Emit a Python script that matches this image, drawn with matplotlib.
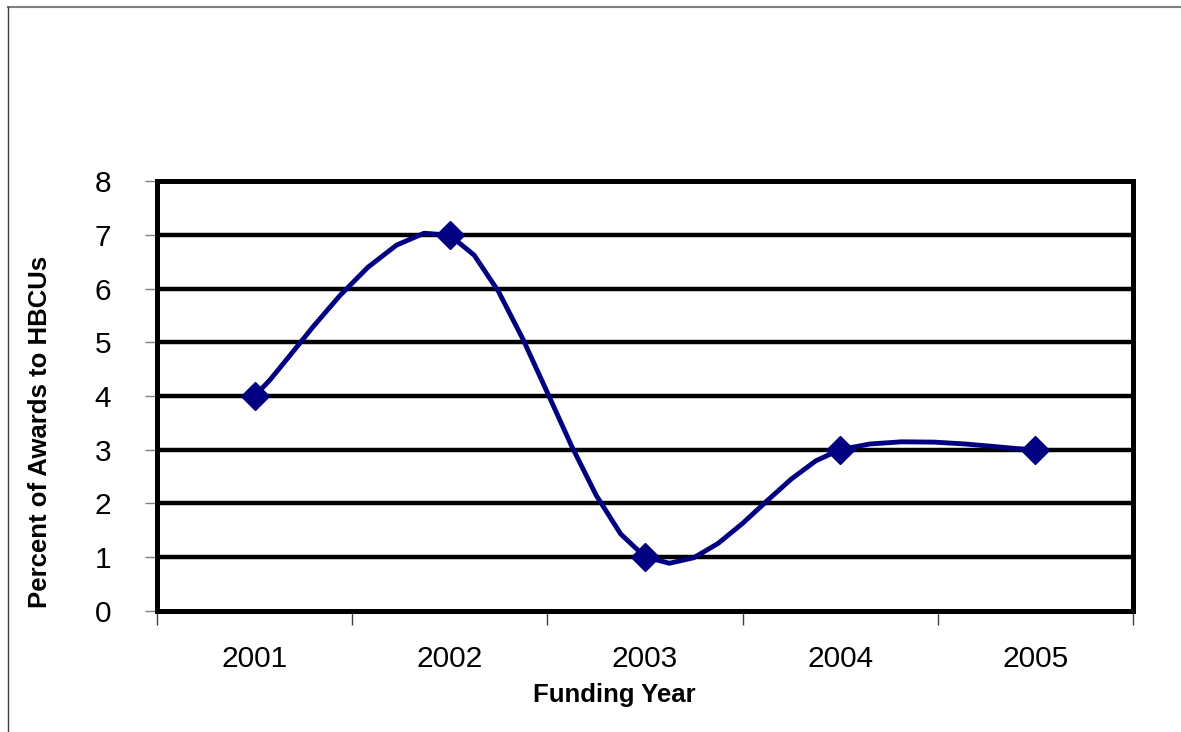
import numpy as np
import matplotlib
matplotlib.use("Agg")
import matplotlib.pyplot as plt
from matplotlib.lines import Line2D

years = ["2001", "2002", "2003", "2004", "2005"]
percent = [4, 7, 1, 3, 3]
yticks = [0, 1, 2, 3, 4, 5, 6, 7, 8]

plt.rcParams['font.family'] = ['Liberation Sans', 'DejaVu Sans']

W, H = 1181, 732
L, R, T, B = 157, 1133, 181.5, 610.5
fig = plt.figure(figsize=(W / 100, H / 100), dpi=100)
ax = fig.add_axes([L / W, 1 - B / H, (R - L) / W, (B - T) / H])

x = np.arange(1, len(years) + 1, dtype=float)
y = np.array(percent, dtype=float)

# Excel-style smoothed line (cubic Bezier with Catmull-Rom control points)
def smooth(xs, ys, n=40):
    px, py = [], []
    N = len(xs)
    for i in range(N - 1):
        x0, y0 = xs[max(i - 1, 0)], ys[max(i - 1, 0)]
        x1, y1 = xs[i], ys[i]
        x2, y2 = xs[i + 1], ys[i + 1]
        x3, y3 = xs[min(i + 2, N - 1)], ys[min(i + 2, N - 1)]
        c1x, c1y = x1 + (x2 - x0) / 6, y1 + (y2 - y0) / 6
        c2x, c2y = x2 - (x3 - x1) / 6, y2 - (y3 - y1) / 6
        t = np.linspace(0, 1, n, endpoint=(i == N - 2))
        bx = (1 - t) ** 3 * x1 + 3 * (1 - t) ** 2 * t * c1x + 3 * (1 - t) * t ** 2 * c2x + t ** 3 * x2
        by = (1 - t) ** 3 * y1 + 3 * (1 - t) ** 2 * t * c1y + 3 * (1 - t) * t ** 2 * c2y + t ** 3 * y2
        px.extend(bx); py.extend(by)
    return np.array(px), np.array(py)

sx, sy = smooth(x, y, n=8)

ax.set_xlim(0.5, len(years) + 0.5)
ax.set_ylim(0, 8)

for v in yticks[1:-1]:
    ax.axhline(v, color='black', lw=3.2, zorder=1)

ax.plot(sx, sy, color='#000080', lw=3.5, zorder=3, solid_joinstyle='round', solid_capstyle='round')
ax.plot(x, y, linestyle='none', marker='D', markersize=14, color='#000080', zorder=4)

for s in ax.spines.values():
    s.set_linewidth(3.6)
    s.set_color('black')

ax.set_yticks(yticks)
ax.set_yticklabels([str(v) for v in yticks], fontsize=21.5)
ax.set_xticks(x)
ax.set_xticklabels(years, fontsize=21.5)
ax.tick_params(axis='x', which='major', length=0, pad=25)
ax.set_xticks(np.arange(0.5, len(years) + 1, 1), minor=True)
ax.tick_params(axis='x', which='minor', length=10, width=1, color='#404040', direction='out')
ax.tick_params(axis='y', length=9, width=1, color='#808080', pad=24)

ax.set_xlabel('Funding Year', fontsize=18.5, fontweight='bold')
ax.xaxis.set_label_coords((614 - L) / (R - L), -(695 - B) / (B - T))
ax.xaxis.label.set_va('center')
ax.set_ylabel('Percent of Awards to HBCUs', fontsize=18.5, fontweight='bold')
ax.yaxis.set_label_coords((40 - L) / (R - L), (B - 432) / (B - T))
ax.yaxis.label.set_va('center')

# outer chart border (top and left visible)
fig.add_artist(Line2D([8 / W, 1.0], [1 - 7 / H, 1 - 7 / H], transform=fig.transFigure, color='#808080', lw=1.5))
fig.add_artist(Line2D([8 / W, 8 / W], [0, 1 - 7 / H], transform=fig.transFigure, color='#404040', lw=1.0))

fig.savefig('out.png', dpi=100, facecolor='white')
